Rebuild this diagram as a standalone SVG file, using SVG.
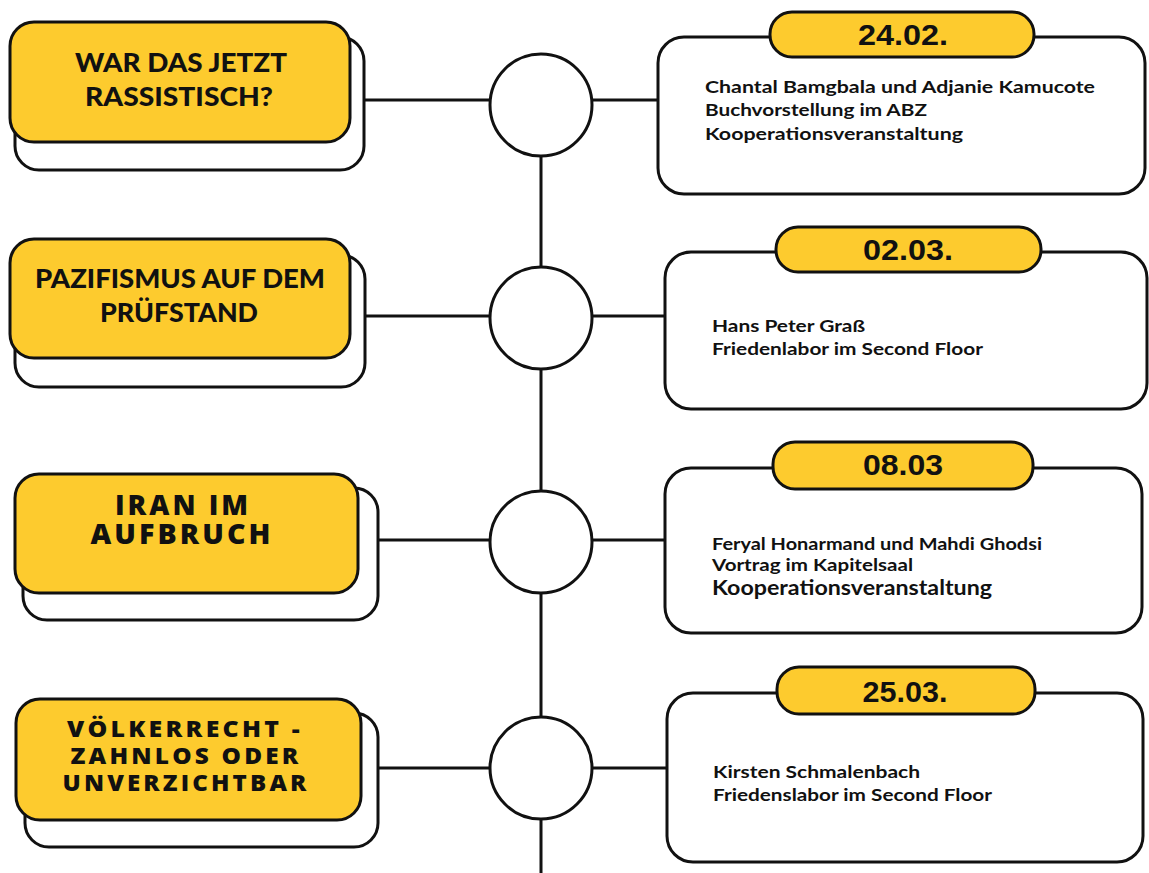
<svg xmlns="http://www.w3.org/2000/svg" width="1149" height="873" viewBox="0 0 1149 873">
<style>
.bg{fill:#ffffff}
.sh{fill:#ffffff;stroke:#111;stroke-width:3}
.yb{fill:#FDCB2E;stroke:#111;stroke-width:3}
.card{fill:#ffffff;stroke:#111;stroke-width:3}
.pill{fill:#FDCB2E;stroke:#111;stroke-width:3}
.ln{stroke:#111;stroke-width:3;fill:none}
.dot{fill:#ffffff;stroke:#111;stroke-width:3}
.h1{font-family:Lato,"Liberation Sans",sans-serif;font-weight:900;font-size:27px;fill:#111;text-anchor:middle}
.h2{font-family:"Open Sans","Liberation Sans",sans-serif;font-weight:800;font-size:28px;letter-spacing:3px;fill:#111;text-anchor:middle}
.h3{font-family:"Open Sans","Liberation Sans",sans-serif;font-weight:800;font-size:23px;letter-spacing:3px;fill:#111;text-anchor:middle}
.dt{font-family:"Liberation Sans",Arial,sans-serif;font-weight:700;font-size:29px;fill:#111;text-anchor:middle}
.tx{font-family:Lato,"Liberation Sans",sans-serif;font-weight:700;font-size:17px;fill:#111}
.tx2{font-family:Lato,"Liberation Sans",sans-serif;font-weight:700;font-size:20px;fill:#111}
</style>
<rect class="bg" x="0" y="0" width="1149" height="873"/>
<g id="connectors">
<line class="ln" x1="541" y1="157" x2="541" y2="873"/>
<line class="ln" x1="364" y1="100" x2="490" y2="100"/>
<line class="ln" x1="592" y1="100" x2="658" y2="100"/>
<line class="ln" x1="365" y1="316" x2="490" y2="316"/>
<line class="ln" x1="592" y1="316" x2="665" y2="316"/>
<line class="ln" x1="378" y1="540" x2="490" y2="540"/>
<line class="ln" x1="592" y1="540" x2="665" y2="540"/>
<line class="ln" x1="378" y1="768" x2="490" y2="768"/>
<line class="ln" x1="592" y1="768" x2="667" y2="768"/>
</g>
<g id="dot1"><circle class="dot" cx="541" cy="105" r="51"/></g>
<g id="dot2"><circle class="dot" cx="541" cy="318" r="51"/></g>
<g id="dot3"><circle class="dot" cx="541" cy="542" r="51"/></g>
<g id="dot4"><circle class="dot" cx="541" cy="768" r="51"/></g>

<g id="topic1">
<rect class="sh" x="15" y="37" width="349" height="133" rx="24"/>
<rect class="yb" x="10" y="22" width="340" height="120" rx="24"/>
<text class="h1" x="181" y="72" textLength="212" lengthAdjust="spacingAndGlyphs">WAR DAS JETZT</text>
<text class="h1" x="179" y="106" textLength="188" lengthAdjust="spacingAndGlyphs">RASSISTISCH?</text>
</g>
<g id="topic2">
<rect class="sh" x="15" y="255" width="350" height="132" rx="24"/>
<rect class="yb" x="10" y="239" width="340" height="119" rx="24"/>
<text class="h1" x="180" y="288" textLength="290" lengthAdjust="spacingAndGlyphs">PAZIFISMUS AUF DEM</text>
<text class="h1" x="179" y="322" textLength="158" lengthAdjust="spacingAndGlyphs">PRÜFSTAND</text>
</g>
<g id="topic3">
<rect class="sh" x="23" y="488" width="355" height="132" rx="24"/>
<rect class="yb" x="15" y="474" width="343" height="119" rx="24"/>
<text class="h2" x="183" y="515" textLength="136" lengthAdjust="spacingAndGlyphs">IRAN IM</text>
<text class="h2" x="182" y="544" textLength="183" lengthAdjust="spacingAndGlyphs">AUFBRUCH</text>
</g>
<g id="topic4">
<rect class="sh" x="25" y="713" width="353" height="134" rx="24"/>
<rect class="yb" x="16" y="699" width="345" height="121" rx="24"/>
<text class="h3" x="185" y="737" textLength="236" lengthAdjust="spacingAndGlyphs">VÖLKERRECHT -</text>
<text class="h3" x="186" y="764" textLength="231" lengthAdjust="spacingAndGlyphs">ZAHNLOS ODER</text>
<text class="h3" x="186" y="791" textLength="247" lengthAdjust="spacingAndGlyphs">UNVERZICHTBAR</text>
</g>

<g id="event1">
<rect class="card" x="658" y="37" width="487" height="157" rx="26"/>
<rect class="pill" x="770" y="12" width="264" height="45" rx="22"/>
<text class="dt" x="903" y="45" textLength="90" lengthAdjust="spacingAndGlyphs">24.02.</text>
<text class="tx" x="705" y="93" textLength="390" lengthAdjust="spacingAndGlyphs">Chantal Bamgbala und Adjanie Kamucote</text>
<text class="tx" x="705" y="116" textLength="222" lengthAdjust="spacingAndGlyphs">Buchvorstellung im ABZ</text>
<text class="tx" x="705" y="140" textLength="258" lengthAdjust="spacingAndGlyphs">Kooperationsveranstaltung</text>
</g>
<g id="event2">
<rect class="card" x="665" y="252" width="482" height="157" rx="26"/>
<rect class="pill" x="776" y="227" width="265" height="45" rx="22"/>
<text class="dt" x="908" y="260" textLength="90" lengthAdjust="spacingAndGlyphs">02.03.</text>
<text class="tx" x="712" y="332" textLength="153" lengthAdjust="spacingAndGlyphs">Hans Peter Graß</text>
<text class="tx" x="712" y="355" textLength="271" lengthAdjust="spacingAndGlyphs">Friedenlabor im Second Floor</text>
</g>
<g id="event3">
<rect class="card" x="665" y="468" width="477" height="165" rx="26"/>
<rect class="pill" x="773" y="442" width="260" height="47" rx="22"/>
<text class="dt" x="903" y="475" textLength="80" lengthAdjust="spacingAndGlyphs">08.03</text>
<text class="tx" x="712" y="550" textLength="330" lengthAdjust="spacingAndGlyphs">Feryal Honarmand und Mahdi Ghodsi</text>
<text class="tx" x="712" y="571" textLength="201" lengthAdjust="spacingAndGlyphs">Vortrag im Kapitelsaal</text>
<text class="tx2" x="712" y="595" textLength="280" lengthAdjust="spacingAndGlyphs">Kooperationsveranstaltung</text>
</g>
<g id="event4">
<rect class="card" x="667" y="693" width="476" height="169" rx="26"/>
<rect class="pill" x="777" y="667" width="258" height="47" rx="22"/>
<text class="dt" x="905" y="702" textLength="85" lengthAdjust="spacingAndGlyphs">25.03.</text>
<text class="tx" x="713" y="778" textLength="207" lengthAdjust="spacingAndGlyphs">Kirsten Schmalenbach</text>
<text class="tx" x="713" y="801" textLength="279" lengthAdjust="spacingAndGlyphs">Friedenslabor im Second Floor</text>
</g>
</svg>
